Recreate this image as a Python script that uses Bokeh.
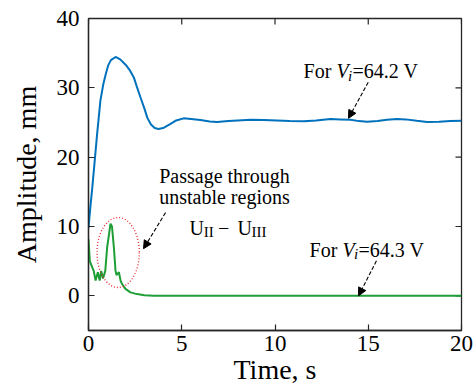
from bokeh.plotting import figure
from bokeh.models import Range1d, FixedTicker, Label, Arrow, NormalHead
from bokeh.embed import file_html
from bokeh.resources import INLINE

# ---- data ----
t_blue = [0.0, 0.05, 0.1, 0.2, 0.3, 0.46, 0.64, 0.8, 0.91, 1.05, 1.2, 1.45, 1.7, 2.0, 2.2,
          2.43, 2.6, 2.79, 3.0, 3.15, 3.35, 3.55, 3.75, 4.0, 4.4, 4.7, 5.1, 5.5, 6.0, 6.5,
          6.9, 7.5, 8.0, 8.7, 9.4, 10.1, 10.8, 11.55, 12.2, 12.98, 13.5, 14.05, 14.5, 14.94,
          15.5, 16.0, 16.55, 17.0, 17.6, 18.16, 18.8, 19.4, 20.0]
amp_blue = [9.8, 11.3, 12.8, 15.5, 18.5, 23.3, 28.2, 30.6, 31.8, 33.2, 34.0, 34.45, 34.1, 33.3, 32.6,
            31.5, 30.1, 28.6, 27.0, 25.7, 24.7, 24.2, 24.05, 24.2, 24.8, 25.3, 25.6, 25.5, 25.35, 25.15,
            25.07, 25.2, 25.3, 25.4, 25.35, 25.3, 25.2, 25.17, 25.3, 25.5, 25.45, 25.4, 25.2, 25.1,
            25.2, 25.4, 25.5, 25.45, 25.25, 25.07, 25.1, 25.2, 25.27]

t_green = [0.0, 0.07, 0.2, 0.28, 0.38, 0.5, 0.6, 0.68, 0.78, 0.9, 1.0, 1.18, 1.26, 1.36, 1.45,
           1.5, 1.63, 1.72, 1.8, 1.98, 2.25, 2.6, 3.0, 3.5, 4.0, 20.0]
amp_green = [8.2, 5.0, 4.1, 3.6, 2.2, 3.4, 2.2, 3.6, 2.5, 3.6, 7.0, 10.4, 10.0, 7.0, 3.6,
             3.0, 3.4, 2.2, 1.7, 1.0, 0.5, 0.25, 0.08, 0.02, 0.0, 0.0]

x_ticks = [0, 5, 10, 15, 20]
y_ticks = [0, 10, 20, 30, 40]

# dotted ellipse around the passage peak (data units)
ell_x = [1.59]
ell_y = [6.25]
ell_w = [2.27]
ell_h = [10.1]

# annotation arrows: start -> end (data units)
arrow_x0 = [4.13, 15.0, 15.44]
arrow_y0 = [12.0, 30.8, 5.05]
arrow_x1 = [2.95, 13.94, 14.48]
arrow_y1 = [6.8, 25.6, 0.0]

FONT = "Liberation Serif"
BLUE = "#0072BD"
GREEN = "#1E9E36"
FRAME = "#262626"

X0, X1, Y0, Y1 = 0, 20, -5, 40

p = figure(width=476, height=389, output_backend="svg", toolbar_location=None,
           x_range=Range1d(X0, X1), y_range=Range1d(Y0, Y1),
           min_border_left=88, min_border_right=15, min_border_top=18, min_border_bottom=59)
p.background_fill_color = "white"
p.border_fill_color = "white"
p.xgrid.visible = False
p.ygrid.visible = False
p.outline_line_color = FRAME
p.outline_line_width = 1.3

for ax, ticks in ((p.xaxis[0], x_ticks), (p.yaxis[0], y_ticks)):
    ax.ticker = FixedTicker(ticks=ticks)
    ax.major_tick_in = 6
    ax.major_tick_out = 0
    ax.minor_tick_line_color = None
    ax.major_tick_line_color = FRAME
    ax.major_tick_line_width = 1.2
    ax.axis_line_color = FRAME
    ax.axis_line_width = 1.3
    ax.major_label_text_font = FONT
    ax.major_label_text_color = "black"
    ax.major_label_text_font_size = "23px"
    ax.axis_label_text_font = FONT
    ax.axis_label_text_font_size = "28px"
    ax.axis_label_text_font_style = "normal"
    ax.axis_label_text_color = "black"

p.xaxis[0].major_label_standoff = 5
p.xaxis[0].axis_label = "Time, s"
p.xaxis[0].axis_label_standoff = 0
p.yaxis[0].major_label_standoff = 9
p.yaxis[0].axis_label = "Amplitude, mm"
p.yaxis[0].axis_label_standoff = 12

# mirrored inward ticks on the top and right frame edges (lengths: 6 px in data units)
tick_dx = 6 * (X1 - X0) / 373.0
tick_dy = 6 * (Y1 - Y0) / 312.0
p.segment(x0=x_ticks, y0=[Y1] * len(x_ticks), x1=x_ticks, y1=[Y1 - tick_dy] * len(x_ticks),
          line_color=FRAME, line_width=1.2)
p.segment(x0=[X1] * len(y_ticks), y0=y_ticks, x1=[X1 - tick_dx] * len(y_ticks), y1=y_ticks,
          line_color=FRAME, line_width=1.2)

# curves
p.line(t_blue, amp_blue, line_color=BLUE, line_width=2)
p.line(t_green, amp_green, line_color=GREEN, line_width=2)

# dotted ellipse
p.ellipse(x=ell_x, y=ell_y, width=ell_w, height=ell_h, fill_alpha=0,
          line_color="#E8262B", line_width=1.3, line_dash="1 2")

# arrows
for xs, ys, xe, ye in zip(arrow_x0, arrow_y0, arrow_x1, arrow_y1):
    p.add_layout(Arrow(x_start=xs, y_start=ys, x_end=xe, y_end=ye,
                       line_color="black", line_width=1.1, line_dash="4 2",
                       end=NormalHead(size=8, fill_color="black", line_color="black", line_width=1)))

def add_text(x, y, txt, size="20px", style="normal", x_offset=0, align="left"):
    p.add_layout(Label(x=x, y=y, text=txt, x_offset=x_offset, text_font=FONT,
                       text_font_size=size, text_font_style=style, text_color="black",
                       text_align=align, text_baseline="alphabetic"))

# "For V_i=64.2 V"
add_text(11.53, 32.39, "For ")
add_text(11.53, 32.39, "V", style="italic", x_offset=33)
add_text(11.53, 31.77, "i", size="15px", style="italic", x_offset=44.5)
add_text(11.53, 32.39, "=64.2 V", x_offset=49)

# "For V_i=64.3 V"
add_text(11.85, 6.64, "For ")
add_text(11.85, 6.64, "V", style="italic", x_offset=33)
add_text(11.85, 6.02, "i", size="15px", style="italic", x_offset=44.5)
add_text(11.85, 6.64, "=64.3 V", x_offset=49)

# Passage text
add_text(7.29, 17.33, "Passage through", align="center")
add_text(7.29, 14.3, "unstable regions", align="center")
add_text(5.42, 9.82, "U")
add_text(5.42, 9.25, "II", size="15px", x_offset=14.2)
add_text(5.42, 9.82, "\u2212", x_offset=28.5)
add_text(5.42, 9.82, "U", x_offset=48)
add_text(5.42, 9.25, "III", size="15px", x_offset=62)

open("out.html", "w").write(file_html(p, INLINE))
